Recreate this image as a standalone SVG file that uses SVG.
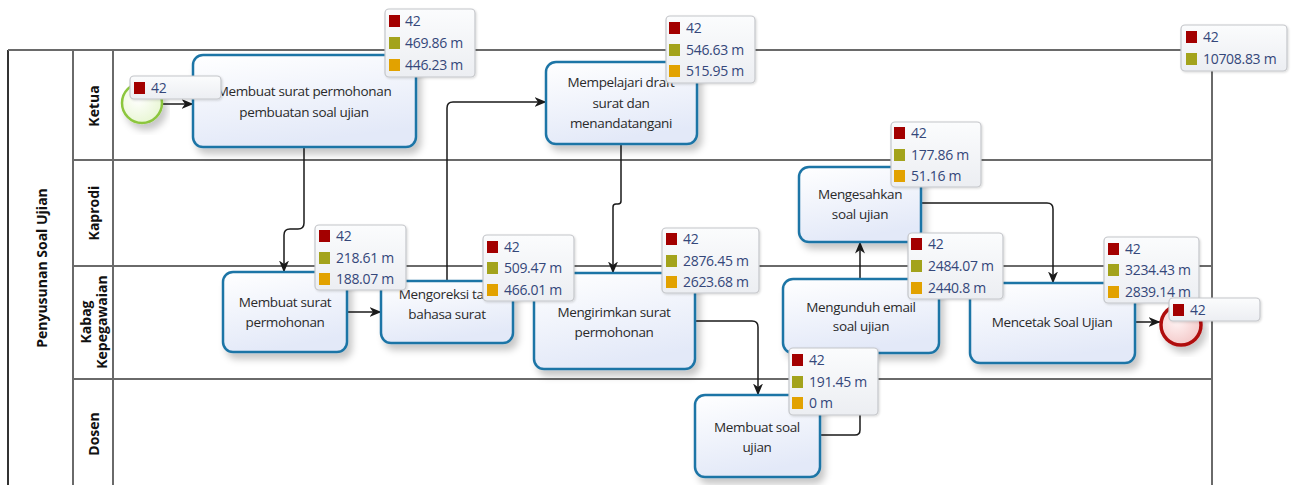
<svg xmlns="http://www.w3.org/2000/svg" width="1301" height="485" viewBox="0 0 1301 485">
  <defs>
    <linearGradient id="taskFill" x1="0" y1="0" x2="0.3" y2="1">
      <stop offset="0" stop-color="#ffffff"/>
      <stop offset="1" stop-color="#e3e9f8"/>
    </linearGradient>
    <linearGradient id="tipFill" x1="0" y1="0" x2="0" y2="1">
      <stop offset="0" stop-color="#fbfcfd"/>
      <stop offset="1" stop-color="#eceef2"/>
    </linearGradient>
    <radialGradient id="startFill" cx="0.4" cy="0.4" r="0.7">
      <stop offset="0" stop-color="#ffffff"/>
      <stop offset="1" stop-color="#e6f5cf"/>
    </radialGradient>
    <radialGradient id="endFill" cx="0.4" cy="0.4" r="0.7">
      <stop offset="0" stop-color="#fff4f4"/>
      <stop offset="1" stop-color="#f2c4c4"/>
    </radialGradient>
    <filter id="shadow" x="-10%" y="-10%" width="130%" height="140%">
      <feDropShadow dx="4" dy="6" stdDeviation="3.5" flood-color="#000" flood-opacity="0.22"/>
    </filter>
    <filter id="tipShadow" x="-10%" y="-10%" width="130%" height="140%">
      <feDropShadow dx="1" dy="1" stdDeviation="1" flood-color="#000" flood-opacity="0.15"/>
    </filter>
    <marker id="arrow" viewBox="0 0 12 10" refX="11.5" refY="5" markerWidth="12" markerHeight="10" markerUnits="userSpaceOnUse" orient="auto">
      <path d="M0,0 L12,5 L0,10 L3.5,5 z" fill="#1a1a1a"/>
    </marker>
    <style>
      .lane { stroke: #6a6a6a; stroke-width: 2; fill: none; }
      .border { stroke: #333333; stroke-width: 2; fill: none; }
      .laneLabel { font-family: "Open Sans", "Noto Sans", sans-serif; font-size: 14px; font-weight: bold; fill: #111; text-anchor: middle; dominant-baseline: central; }
      .task rect { fill: url(#taskFill); stroke: #1f75a6; stroke-width: 2.5; filter: url(#shadow); }
      .task text { font-family: "Open Sans", "Noto Sans", sans-serif; font-size: 13.5px; fill: #2a2a2a; text-anchor: middle; letter-spacing: -0.35px; }
      .flow { fill: none; stroke: #1a1a1a; stroke-width: 1.5; marker-end: url(#arrow); }
      .tip rect.box { fill: url(#tipFill); stroke: #c4c6ca; stroke-width: 1.2; filter: url(#tipShadow); }
      .tip text { font-family: "Open Sans", "Noto Sans", sans-serif; font-size: 14px; fill: #34477a; letter-spacing: -0.3px; }
      .sq1 { fill: #a30000; }
      .sq2 { fill: #a3a31c; }
      .sq3 { fill: #e2a200; }
    </style>
  </defs>

  <rect width="1301" height="485" fill="#ffffff"/>

  <!-- pool and lanes -->
  <g id="pool">
    <line class="border" x1="8" y1="50" x2="8" y2="485"/>
    <line class="lane" x1="8" y1="50" x2="1212" y2="50"/>
    <line class="lane" x1="73" y1="50" x2="73" y2="485"/>
    <line class="lane" x1="113" y1="50" x2="113" y2="485"/>
    <line class="lane" x1="1212" y1="50" x2="1212" y2="485"/>
    <line class="lane" x1="73" y1="160" x2="1212" y2="160"/>
    <line class="lane" x1="73" y1="266" x2="1212" y2="266"/>
    <line class="lane" x1="73" y1="379" x2="1212" y2="379"/>
    <text class="laneLabel" transform="translate(41,268) rotate(-90)">Penyusunan Soal Ujian</text>
    <text class="laneLabel" transform="translate(93,106) rotate(-90)">Ketua</text>
    <text class="laneLabel" transform="translate(93,213) rotate(-90)">Kaprodi</text>
    <text class="laneLabel" transform="translate(85,322) rotate(-90)">Kabag</text>
    <text class="laneLabel" transform="translate(101,322) rotate(-90)">Kepegawaian</text>
    <text class="laneLabel" transform="translate(93,434) rotate(-90)">Dosen</text>
  </g>

  <!-- sequence flows -->
  <g id="connectors">
    <path class="flow" d="M163,104 H193"/>
    <path class="flow" d="M304,147 V223 Q304,229 298,229 H290 Q284,229 284,235 V272"/>
    <path class="flow" d="M347,312 H381"/>
    <path class="flow" d="M447,281 V108 Q447,102 453,102 H546"/>
    <path class="flow" d="M621,144 V201 Q621,204 618,204 H616 Q613,204 613,207 V273"/>
    <path class="flow" d="M695,321 H752 Q758,321 758,327 V395"/>
    <path class="flow" d="M820,435 H855 Q860,435 860,430 V353"/>
    <path class="flow" d="M860,279 V242"/>
    <path class="flow" d="M921,203 H1047 Q1053,203 1053,209 V283"/>
    <path class="flow" d="M1135,322 H1160"/>
  </g>

  <!-- events -->
  <g id="start">
    <circle cx="142" cy="103" r="20" fill="url(#startFill)" stroke="#8cc63e" stroke-width="2.5" filter="url(#shadow)"/>
  </g>
  <g id="end">
    <circle cx="1181" cy="325" r="20" fill="url(#endFill)" stroke="#b01010" stroke-width="3.5" filter="url(#shadow)"/>
  </g>

  <!-- tasks -->
  <g id="task-membuat-surat-pembuatan" class="task">
    <rect x="193" y="55" width="223" height="92" rx="10"/>
    <text x="304" y="96">Membuat surat permohonan</text>
    <text x="304" y="117">pembuatan soal ujian</text>
  </g>
  <g id="task-mempelajari" class="task">
    <rect x="546" y="62" width="151" height="82" rx="10"/>
    <text x="621" y="87">Mempelajari draft</text>
    <text x="621" y="108">surat dan</text>
    <text x="621" y="128">menandatangani</text>
  </g>
  <g id="task-mengesahkan" class="task">
    <rect x="799" y="167" width="122" height="75" rx="10"/>
    <text x="860" y="199">Mengesahkan</text>
    <text x="860" y="219">soal ujian</text>
  </g>
  <g id="task-membuat-surat" class="task">
    <rect x="223" y="272" width="124" height="80" rx="10"/>
    <text x="285" y="307">Membuat surat</text>
    <text x="285" y="327">permohonan</text>
  </g>
  <g id="task-mengoreksi" class="task">
    <rect x="381" y="281" width="132" height="62" rx="10"/>
    <text x="447" y="299">Mengoreksi tata</text>
    <text x="447" y="319">bahasa surat</text>
  </g>
  <g id="task-mengirimkan" class="task">
    <rect x="534" y="273" width="161" height="96" rx="10"/>
    <text x="614" y="317">Mengirimkan surat</text>
    <text x="614" y="337">permohonan</text>
  </g>
  <g id="task-mengunduh" class="task">
    <rect x="783" y="279" width="156" height="74" rx="10"/>
    <text x="861" y="312">Mengunduh email</text>
    <text x="861" y="331">soal ujian</text>
  </g>
  <g id="task-mencetak" class="task">
    <rect x="970" y="283" width="165" height="80" rx="10"/>
    <text x="1052" y="327">Mencetak Soal Ujian</text>
  </g>
  <g id="task-membuat-soal" class="task">
    <rect x="695" y="395" width="125" height="82" rx="10"/>
    <text x="757" y="432">Membuat soal</text>
    <text x="757" y="452">ujian</text>
  </g>

  <!-- statistic tooltips -->
  <g id="tip-start" class="tip">
    <rect class="box" x="130" y="76" width="91" height="23" rx="4"/>
    <rect class="sq1" x="134" y="82" width="11" height="12"/>
    <text x="151" y="93">42</text>
  </g>
  <g id="tip-membuat-surat-pembuatan" class="tip">
    <rect class="box" x="385" y="9" width="90" height="68" rx="4"/>
    <rect class="sq1" x="389" y="15" width="11" height="12"/>
    <rect class="sq2" x="389" y="37" width="11" height="12"/>
    <rect class="sq3" x="389" y="59" width="11" height="12"/>
    <text x="405" y="26">42</text>
    <text x="405" y="48">469.86 m</text>
    <text x="405" y="70">446.23 m</text>
  </g>
  <g id="tip-mempelajari" class="tip">
    <rect class="box" x="666" y="16" width="89" height="67" rx="4"/>
    <rect class="sq1" x="669" y="22" width="11" height="12"/>
    <rect class="sq2" x="669" y="44" width="11" height="12"/>
    <rect class="sq3" x="669" y="65" width="11" height="12"/>
    <text x="686" y="33">42</text>
    <text x="686" y="55">546.63 m</text>
    <text x="686" y="76">515.95 m</text>
  </g>
  <g id="tip-pool" class="tip">
    <rect class="box" x="1181" y="25" width="106" height="46" rx="4"/>
    <rect class="sq1" x="1186" y="31" width="11" height="12"/>
    <rect class="sq2" x="1186" y="53" width="11" height="12"/>
    <text x="1203" y="42">42</text>
    <text x="1203" y="64">10708.83 m</text>
  </g>
  <g id="tip-mengesahkan" class="tip">
    <rect class="box" x="891" y="122" width="90" height="65" rx="4"/>
    <rect class="sq1" x="894" y="127" width="11" height="12"/>
    <rect class="sq2" x="894" y="149" width="11" height="12"/>
    <rect class="sq3" x="894" y="170" width="11" height="12"/>
    <text x="911" y="138">42</text>
    <text x="911" y="160">177.86 m</text>
    <text x="911" y="181">51.16 m</text>
  </g>
  <g id="tip-membuat-surat" class="tip">
    <rect class="box" x="315" y="225" width="91" height="65" rx="4"/>
    <rect class="sq1" x="319" y="230" width="11" height="12"/>
    <rect class="sq2" x="319" y="252" width="11" height="12"/>
    <rect class="sq3" x="319" y="273" width="11" height="12"/>
    <text x="336" y="241">42</text>
    <text x="336" y="263">218.61 m</text>
    <text x="336" y="284">188.07 m</text>
  </g>
  <g id="tip-mengoreksi" class="tip">
    <rect class="box" x="483" y="235" width="91" height="66" rx="4"/>
    <rect class="sq1" x="487" y="241" width="11" height="12"/>
    <rect class="sq2" x="487" y="262" width="11" height="12"/>
    <rect class="sq3" x="487" y="284" width="11" height="12"/>
    <text x="504" y="252">42</text>
    <text x="504" y="273">509.47 m</text>
    <text x="504" y="295">466.01 m</text>
  </g>
  <g id="tip-mengirimkan" class="tip">
    <rect class="box" x="662" y="228" width="97" height="65" rx="4"/>
    <rect class="sq1" x="666" y="233" width="11" height="12"/>
    <rect class="sq2" x="666" y="255" width="11" height="12"/>
    <rect class="sq3" x="666" y="276" width="11" height="12"/>
    <text x="683" y="244">42</text>
    <text x="683" y="266">2876.45 m</text>
    <text x="683" y="287">2623.68 m</text>
  </g>
  <g id="tip-mengunduh" class="tip">
    <rect class="box" x="908" y="233" width="95" height="66" rx="4"/>
    <rect class="sq1" x="911" y="238" width="11" height="12"/>
    <rect class="sq2" x="911" y="260" width="11" height="12"/>
    <rect class="sq3" x="911" y="282" width="11" height="12"/>
    <text x="928" y="249">42</text>
    <text x="928" y="271">2484.07 m</text>
    <text x="928" y="293">2440.8 m</text>
  </g>
  <g id="tip-mencetak" class="tip">
    <rect class="box" x="1104" y="237" width="95" height="66" rx="4"/>
    <rect class="sq1" x="1108" y="243" width="11" height="12"/>
    <rect class="sq2" x="1108" y="264" width="11" height="12"/>
    <rect class="sq3" x="1108" y="286" width="11" height="12"/>
    <text x="1125" y="254">42</text>
    <text x="1125" y="275">3234.43 m</text>
    <text x="1125" y="297">2839.14 m</text>
  </g>
  <g id="tip-end" class="tip">
    <rect class="box" x="1169" y="298" width="91" height="23" rx="4"/>
    <rect class="sq1" x="1173" y="304" width="11" height="12"/>
    <text x="1190" y="315">42</text>
  </g>
  <g id="tip-membuat-soal" class="tip">
    <rect class="box" x="789" y="348" width="89" height="67" rx="4"/>
    <rect class="sq1" x="792" y="354" width="11" height="12"/>
    <rect class="sq2" x="792" y="376" width="11" height="12"/>
    <rect class="sq3" x="792" y="397" width="11" height="12"/>
    <text x="809" y="365">42</text>
    <text x="809" y="387">191.45 m</text>
    <text x="809" y="408">0 m</text>
  </g>
</svg>
